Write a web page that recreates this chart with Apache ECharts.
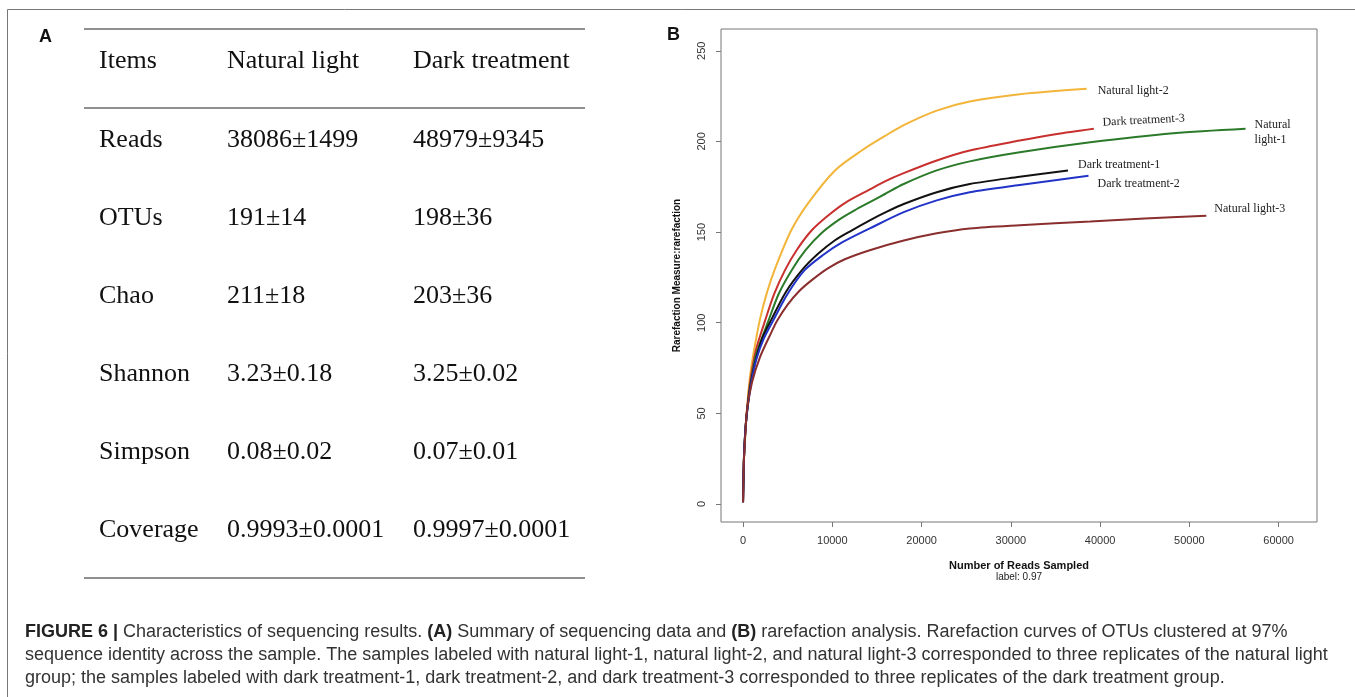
<!DOCTYPE html>
<html>
<head>
<meta charset="utf-8">
<script src="https://cdn.jsdelivr.net/npm/echarts@6/dist/echarts.min.js"></script>
<style>
  html, body { margin: 0; padding: 0; background: #fff; }
  #main { width: 1355px; height: 697px; }
</style>
</head>
<body>
<div id="main"></div>
<script>
// panel A table
const tableHead = ['Items', 'Natural light', 'Dark treatment'];
const tableItems = ['Reads', 'OTUs', 'Chao', 'Shannon', 'Simpson', 'Coverage'];
const naturalCol = ['38086±1499', '191±14', '211±18', '3.23±0.18', '0.08±0.02', '0.9993±0.0001'];
const darkCol = ['48979±9345', '198±36', '203±36', '3.25±0.02', '0.07±0.01', '0.9997±0.0001'];

// panel B rarefaction curves, [reads sampled, OTUs]
const natLight2 = [[0, 1], [100, 25], [250, 40], [450, 53], [700, 67], [1000, 78], [1350, 88], [1900, 102],
  [2700, 117], [3600, 130], [5400, 151], [7300, 166], [10300, 184], [13300, 195], [15900, 203], [18000, 209],
  [21700, 217], [25400, 222], [31000, 226], [38500, 229]];
const dark3 = [[0, 1], [100, 25], [250, 40], [450, 52], [700, 64], [1000, 74], [1500, 86], [2460, 101],
  [3500, 116], [4700, 129], [6000, 140], [7700, 151], [9500, 159], [11400, 166], [14200, 173.5], [15900, 178],
  [18000, 182.5], [21700, 189.5], [25400, 195], [31000, 200.5], [35000, 204], [39300, 207]];
const natLight1 = [[0, 1], [100, 25], [250, 40], [450, 51], [700, 62], [1000, 71], [1500, 83], [2840, 101],
  [4000, 116], [5450, 129], [7000, 140], [8800, 149.5], [10800, 157], [12500, 162], [14200, 166.5], [15900, 171],
  [18000, 176.5], [21700, 184], [25400, 189], [31000, 194], [38900, 199.5], [48200, 204.5], [56300, 207]];
const dark1 = [[0, 1], [100, 25], [250, 40], [450, 51], [700, 61], [1000, 70], [1500, 81], [2200, 92],
  [3200, 102], [4800, 117], [6600, 129], [8400, 138], [10300, 145.5], [12200, 151], [14200, 156.5], [16000, 161],
  [18000, 165.5], [21700, 172], [25400, 176.5], [31000, 180.5], [36400, 184]];
const dark2 = [[0, 1], [100, 25], [250, 40], [450, 51], [700, 60], [1000, 69], [1500, 80], [2300, 91],
  [3400, 101.5], [5000, 116], [6900, 129], [9000, 137.5], [11000, 144], [14200, 152], [18000, 161],
  [21700, 167.5], [25400, 172], [31000, 176], [38700, 181]];
const natLight3 = [[0, 1], [100, 24], [250, 38], [450, 52], [1000, 67], [1900, 81], [3200, 95], [3800, 101],
  [5000, 110], [6300, 117.5], [7700, 123.5], [9500, 130], [11400, 135], [14200, 140], [17900, 145.2],
  [21700, 149.3], [25400, 152], [31000, 153.8], [38900, 155.8], [45000, 157.5], [51900, 159]];

const xTicks = [0, 10000, 20000, 30000, 40000, 50000, 60000];
const yTicks = [0, 50, 100, 150, 200, 250];

const chart = echarts.init(document.getElementById('main'));

function curve(name, data, color, labelText, offset, rotate) {
  return {
    name: name,
    type: 'line',
    data: data,
    showSymbol: false,
    smooth: 0.3,
    lineStyle: { color: color, width: 2 },
    itemStyle: { color: color },
    endLabel: {
      show: true,
      formatter: labelText,
      offset: offset,
      rotate: rotate || 0,
      color: '#222',
      fontFamily: 'Liberation Serif',
      fontSize: 12,
      lineHeight: 15,
      distance: 5
    }
  };
}

// table graphics
const tableX = [99, 227, 413];
const rowY = [140, 218, 296, 374, 452, 530];
const tableFont = '26px "Liberation Serif"';
const tableGraphics = [];
tableHead.forEach(function (t, i) {
  tableGraphics.push({ type: 'text', x: tableX[i], y: 61, style: { text: t, font: tableFont, fill: '#111', verticalAlign: 'middle' } });
});
tableItems.forEach(function (t, r) {
  [t, naturalCol[r], darkCol[r]].forEach(function (s, c) {
    tableGraphics.push({ type: 'text', x: tableX[c], y: rowY[r], style: { text: s, font: tableFont, fill: '#111', verticalAlign: 'middle' } });
  });
});
[29, 108, 578].forEach(function (y) {
  tableGraphics.push({ type: 'line', shape: { x1: 84, y1: y, x2: 585, y2: y }, style: { stroke: '#222', lineWidth: 1.2 } });
});

const captionRich = {
  b: { fontWeight: 'bold', fontFamily: 'Liberation Sans', fontSize: 18, fill: '#222' }
};
const captionLines = [
  '{b|FIGURE 6 |} Characteristics of sequencing results. {b|(A)} Summary of sequencing data and {b|(B)} rarefaction analysis. Rarefaction curves of OTUs clustered at 97%',
  'sequence identity across the sample. The samples labeled with natural light-1, natural light-2, and natural light-3 corresponded to three replicates of the natural light',
  'group; the samples labeled with dark treatment-1, dark treatment-2, and dark treatment-3 corresponded to three replicates of the dark treatment group.'
];
const captionGraphics = captionLines.map(function (t, i) {
  return {
    type: 'text', x: 25, y: 632 + i * 23,
    style: { text: t, rich: captionRich, fontFamily: 'Liberation Sans', fontSize: 18, fill: '#333', verticalAlign: 'middle' }
  };
});

const option = {
  animation: false,
  backgroundColor: '#fff',
  grid: {
    left: 721, top: 29, width: 596, height: 493,
    show: true, borderColor: '#777', borderWidth: 1, backgroundColor: 'transparent'
  },
  xAxis: {
    type: 'value',
    min: -2470, max: 64300,
    name: '{t|Number of Reads Sampled}\n{s|label: 0.97}',
    nameLocation: 'middle',
    nameGap: 38,
    nameTextStyle: {
      verticalAlign: 'top',
      lineHeight: 12,
      rich: {
        t: { fontFamily: 'Liberation Sans', fontWeight: 'bold', fontSize: 11, color: '#111', lineHeight: 12 },
        s: { fontFamily: 'Liberation Sans', fontSize: 10, color: '#222', lineHeight: 11 }
      }
    },
    splitLine: { show: false },
    axisLine: { show: false, onZero: false },
    axisTick: { show: true, customValues: xTicks, length: 5, lineStyle: { color: '#777' } },
    axisLabel: {
      customValues: xTicks, margin: 13, fontFamily: 'Liberation Sans', fontSize: 11, color: '#333',
      formatter: function (v) { return String(v); }
    }
  },
  yAxis: {
    type: 'value',
    min: -9.9, max: 262,
    name: 'Rarefaction Measure:rarefaction',
    nameLocation: 'middle',
    nameGap: 39,
    nameTextStyle: { fontFamily: 'Liberation Sans', fontWeight: 'bold', fontSize: 10, color: '#111' },
    splitLine: { show: false },
    axisLine: { show: false, onZero: false },
    axisTick: { show: true, customValues: yTicks, length: 5, lineStyle: { color: '#777' } },
    axisLabel: {
      customValues: yTicks, rotate: 90, margin: 14, fontFamily: 'Liberation Sans', fontSize: 11, color: '#333',
      formatter: function (v) { return String(v); }
    }
  },
  series: [
    curve('Natural light-2', natLight2, '#F2B53A', 'Natural light-2', [6, 2]),
    curve('Dark treatment-3', dark3, '#C8302E', 'Dark treatment-3', [4, -6], 3),
    curve('Natural light-1', natLight1, '#2A7A2A', 'Natural\nlight-1', [4, 4]),
    curve('Dark treatment-1', dark1, '#111111', 'Dark treatment-1', [5, -6]),
    curve('Dark treatment-2', dark2, '#2233C8', 'Dark treatment-2', [4, 8]),
    curve('Natural light-3', natLight3, '#8A2E2E', 'Natural light-3', [3, -7])
  ],
  graphic: [
    { type: 'line', shape: { x1: 7.5, y1: 9.5, x2: 7.5, y2: 697 }, style: { stroke: '#777', lineWidth: 1 } },
    { type: 'line', shape: { x1: 7.5, y1: 9.5, x2: 1355, y2: 9.5 }, style: { stroke: '#777', lineWidth: 1 } },
    { type: 'text', x: 39, y: 37, style: { text: 'A', font: 'bold 18px "Liberation Sans"', fill: '#111', verticalAlign: 'middle' } },
    { type: 'text', x: 667, y: 35, style: { text: 'B', font: 'bold 18px "Liberation Sans"', fill: '#111', verticalAlign: 'middle' } }
  ].concat(tableGraphics, captionGraphics)
};

chart.setOption(option);
</script>
</body>
</html>
